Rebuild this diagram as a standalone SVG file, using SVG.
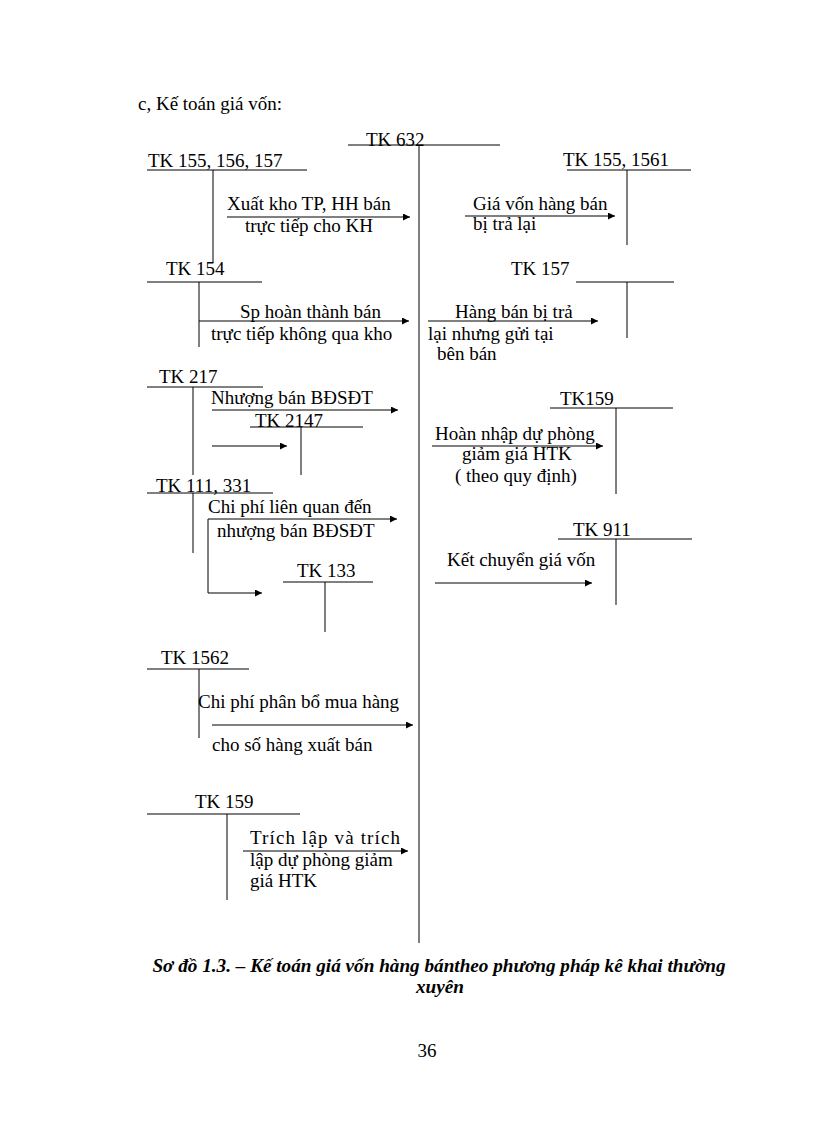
<svg xmlns="http://www.w3.org/2000/svg" width="816" height="1123" viewBox="0 0 816 1123">
<style>
text{font-family:'Liberation Serif','Times New Roman',serif;font-size:19px;fill:#000}
.ln{stroke:#000;stroke-width:1;fill:none}
.cap{font-weight:bold;font-style:italic;font-size:19.2px}
</style>
<defs>
<marker id="ah" viewBox="0 0 10 10" refX="10" refY="5" markerWidth="9" markerHeight="7" markerUnits="userSpaceOnUse" orient="auto">
<path d="M0,0 L10,5 L0,10 z" fill="#000"/>
</marker>
</defs>
<rect width="816" height="1123" fill="#fff"/>
<text x="138" y="110">c, Kế toán giá  vốn:</text>

<g id="tk632">
<text x="366" y="146">TK 632</text>
<line class="ln" x1="348" y1="145" x2="500" y2="145"/>
<line class="ln" x1="419" y1="145" x2="419" y2="943"/>
</g>
<g id="tk155_156_157">
<text x="148" y="167">TK 155, 156, 157</text>
<line class="ln" x1="147" y1="170" x2="307" y2="170"/>
<line class="ln" x1="213" y1="170" x2="213" y2="263"/>
</g>
<g id="tk155_1561">
<text x="563" y="166">TK 155, 1561</text>
<line class="ln" x1="567" y1="170" x2="691" y2="170"/>
<line class="ln" x1="627" y1="170" x2="627" y2="245"/>
</g>
<g id="tk154">
<text x="166" y="275">TK 154</text>
<line class="ln" x1="147" y1="282" x2="262" y2="282"/>
<line class="ln" x1="199" y1="282" x2="199" y2="347"/>
</g>
<g id="tk157">
<text x="511" y="275">TK 157</text>
<line class="ln" x1="576" y1="282" x2="674" y2="282"/>
<line class="ln" x1="627" y1="282" x2="627" y2="338"/>
</g>
<g id="tk217">
<text x="159" y="383">TK 217</text>
<line class="ln" x1="147" y1="387" x2="263" y2="387"/>
<line class="ln" x1="193" y1="387" x2="193" y2="475"/>
</g>
<g id="tk2147">
<text x="255" y="427">TK 2147</text>
<line class="ln" x1="250" y1="427" x2="363" y2="427"/>
<line class="ln" x1="301" y1="427" x2="301" y2="475"/>
</g>
<g id="tk159_right">
<text x="560" y="405">TK159</text>
<line class="ln" x1="550" y1="408" x2="673" y2="408"/>
<line class="ln" x1="616" y1="408" x2="616" y2="494"/>
</g>
<g id="tk111_331">
<text x="156" y="492">TK 111, 331</text>
<line class="ln" x1="147" y1="493" x2="273" y2="493"/>
<line class="ln" x1="193" y1="493" x2="193" y2="553"/>
</g>
<g id="tk911">
<text x="573" y="536">TK 911</text>
<line class="ln" x1="558" y1="539" x2="692" y2="539"/>
<line class="ln" x1="616" y1="539" x2="616" y2="605"/>
</g>
<g id="tk133">
<text x="297" y="577">TK 133</text>
<line class="ln" x1="283" y1="582" x2="373" y2="582"/>
<line class="ln" x1="325" y1="582" x2="325" y2="632"/>
</g>
<g id="tk1562">
<text x="161" y="664">TK 1562</text>
<line class="ln" x1="147" y1="669" x2="249" y2="669"/>
<line class="ln" x1="199" y1="669" x2="199" y2="738"/>
</g>
<g id="tk159_bottom">
<text x="195" y="808">TK 159</text>
<line class="ln" x1="147" y1="814" x2="300" y2="814"/>
<line class="ln" x1="227" y1="814" x2="227" y2="900"/>
</g>

<g id="connectors">
<line class="ln" x1="227" y1="217" x2="410" y2="217" marker-end="url(#ah)"/>
<text x="227" y="210">Xuất kho TP, HH bán</text>
<text x="245" y="232">trực tiếp  cho KH</text>

<line class="ln" x1="465" y1="216" x2="615" y2="216" marker-end="url(#ah)"/>
<text x="473" y="210">Giá vốn hàng bán</text>
<text x="473" y="230">bị trả lại</text>

<line class="ln" x1="199" y1="321" x2="409" y2="321" marker-end="url(#ah)"/>
<text x="240" y="318">Sp hoàn thành bán</text>
<text x="211" y="340">trực tiếp không qua kho</text>

<line class="ln" x1="428" y1="321" x2="598" y2="321" marker-end="url(#ah)"/>
<text x="455" y="318">Hàng bán bị trả</text>
<text x="428" y="340">lại nhưng gửi  tại</text>
<text x="437" y="360">bên bán</text>

<line class="ln" x1="212" y1="410" x2="398" y2="410" marker-end="url(#ah)"/>
<text x="211" y="404">Nhượng bán BĐSĐT</text>

<line class="ln" x1="212" y1="446" x2="287" y2="446" marker-end="url(#ah)"/>

<line class="ln" x1="432" y1="446" x2="603" y2="446" marker-end="url(#ah)"/>
<text x="435" y="440">Hoàn nhập dự phòng</text>
<text x="462" y="460">giảm  giá HTK</text>
<text x="455" y="482">( theo quy định)</text>

<line class="ln" x1="208" y1="519" x2="397" y2="519" marker-end="url(#ah)"/>
<text x="208" y="513">Chi phí liên  quan đến</text>
<text x="217" y="537">nhượng bán BĐSĐT</text>
<path class="ln" d="M208,519 V593 H262" marker-end="url(#ah)"/>

<line class="ln" x1="435" y1="583" x2="592" y2="583" marker-end="url(#ah)"/>
<text x="447" y="566">Kết chuyển giá vốn</text>

<line class="ln" x1="212" y1="725" x2="413" y2="725" marker-end="url(#ah)"/>
<text x="198" y="708">Chi phí phân bổ mua hàng</text>
<text x="212" y="751">cho số hàng xuất bán</text>

<line class="ln" x1="243" y1="851" x2="408" y2="851" marker-end="url(#ah)"/>
<text x="250" y="844" textLength="150" lengthAdjust="spacing">Trích lập và trích</text>
<text x="250" y="866">lập dự phòng giảm</text>
<text x="250" y="887">giá HTK</text>
</g>

<text class="cap" x="439" y="972" text-anchor="middle">Sơ đồ 1.3. – Kế toán giá vốn hàng bántheo phương pháp kê khai thường</text>
<text class="cap" x="440" y="993" text-anchor="middle">xuyên</text>
<text x="427" y="1057" text-anchor="middle">36</text>
</svg>
